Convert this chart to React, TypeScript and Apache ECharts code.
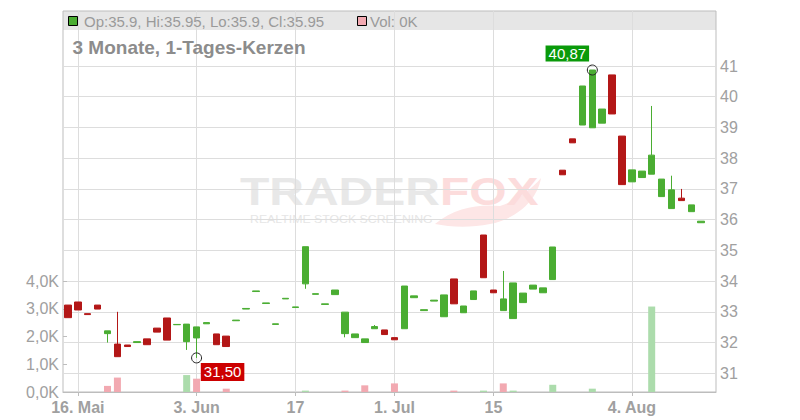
import React, { useEffect, useRef } from 'react';
import * as echarts from 'echarts';

// Trading days 2025 (MM-DD); the last one is an empty slot
const dates = ['05-15','05-16','05-19','05-20','05-21','05-22','05-23','05-26','05-27','05-28','05-29','05-30',
  '06-02','06-03','06-04','06-05','06-06','06-09','06-10','06-11','06-12','06-13','06-16','06-17','06-18','06-19','06-20','06-23','06-24','06-25','06-26','06-27','06-30',
  '07-01','07-02','07-03','07-04','07-07','07-08','07-09','07-10','07-11','07-14','07-15','07-16','07-17','07-18','07-21','07-22','07-23','07-24','07-25','07-28','07-29','07-30','07-31',
  '08-01','08-04','08-05','08-06','08-07','08-08','08-11','08-12','08-13','08-14'];

const tickDates = ['05-16','06-03','06-17','07-01','07-15','08-04'];
const tickLabels = ['16. Mai','3. Jun','17','1. Jul','15','4. Aug'];

const opens = [33.22,33.32,32.94,33.22,32.29,31.95,31.92,32.00,32.12,32.47,32.80,32.58,32.03,32.15,32.61,32.28,32.21,32.71,33.09,33.66,33.27,32.59,33.42,33.14,33.91,33.57,33.24,33.56,32.29,32.16,32.00,32.45,32.41,32.16,32.45,33.46,33.04,33.35,32.84,34.07,32.97,33.40,35.50,33.71,33.04,32.78,33.30,33.74,33.62,34.05,37.61,38.63,39.08,38.99,39.14,40.71,38.72,37.23,37.37,37.48,36.75,36.36,36.70,36.26,35.90];
const closes = [32.81,33.06,32.91,33.09,32.38,31.54,31.87,32.03,31.93,32.34,32.08,32.59,32.60,32.51,32.65,31.93,31.87,32.73,33.11,33.68,33.29,32.61,33.44,33.16,35.12,33.59,33.26,33.71,32.99,32.28,32.12,32.52,32.26,32.09,33.84,33.52,33.07,33.38,33.55,33.26,33.19,33.68,34.11,33.62,33.42,33.94,33.61,33.87,33.78,35.11,37.46,38.50,40.35,40.87,39.60,39.44,37.14,37.62,37.58,38.10,37.32,36.97,36.62,36.48,35.95];
const lows = [32.81,33.06,32.91,33.09,32.00,31.54,31.87,32.00,31.93,32.34,32.08,32.58,31.76,31.50,32.61,31.93,31.87,32.71,33.09,33.66,33.27,32.59,33.42,33.14,33.75,33.57,33.24,33.56,32.17,32.16,32.00,32.45,32.26,32.09,32.45,33.46,33.04,33.35,32.84,33.26,32.97,33.40,34.11,33.62,33.04,32.78,33.30,33.74,33.62,34.05,37.46,38.50,39.08,38.99,39.14,39.44,37.14,37.23,37.37,37.48,36.75,36.36,36.62,36.26,35.90];
const highs = [33.22,33.32,32.94,33.22,32.38,33.00,31.92,32.03,32.12,32.47,32.80,32.59,32.60,32.51,32.65,32.28,32.21,32.73,33.11,33.68,33.29,32.61,33.44,33.16,35.12,33.59,33.26,33.71,32.99,32.28,32.12,32.57,32.41,32.16,33.84,33.52,33.07,33.38,33.55,34.07,33.19,33.68,35.50,33.71,34.33,33.94,33.61,33.87,33.78,35.11,37.61,38.63,40.35,40.87,39.60,40.71,38.72,37.62,37.58,39.70,37.32,37.43,37.00,36.48,35.95];
// volume in thousands
const volumes = [0,0,0,0,0.22,0.52,0,0,0,0,0,0,0.61,0.48,0,0,0.12,0,0,0,0,0,0,0,0.05,0,0,0,0.05,0,0.24,0,0,0.31,0,0,0,0,0,0.05,0,0,0.05,0,0.31,0.05,0,0,0,0.26,0,0,0,0.12,0,0,0,0,0,3.08,0,0,0,0,0];

const titleText = '3 Monate, 1-Tages-Kerzen';
const volLegend = 'Vol: 0K';

const FONT = '"Liberation Sans", Arial, Helvetica, sans-serif';
const UP = '#4aad32';
const DOWN = '#b31717';
const VOL_UP = '#acdcac';
const VOL_DOWN = '#f2a9b1';
const LABEL = '#a0a0a0';

function fmt(v: number) {
  return String(Number(v.toFixed(2)));
}

export default function App() {
  const ref = useRef<HTMLDivElement>(null);
  useEffect(() => {
    document.body.style.margin = '0';
    const chart = echarts.init(ref.current!, null, { renderer: 'svg' });

    const n = opens.length;
    const candles: any[] = [];
    for (let i = 0; i < n; i++) candles.push([opens[i], closes[i], lows[i], highs[i]]);
    const vols = volumes.map((v, i) => {
      const up = i === 0 ? closes[0] >= opens[0] : closes[i] >= closes[i - 1];
      return { value: v, itemStyle: { color: up ? VOL_UP : VOL_DOWN } };
    });

    let hiIdx = 0, loIdx = 0;
    for (let i = 0; i < n; i++) {
      if (highs[i] > highs[hiIdx]) hiIdx = i;
      if (lows[i] < lows[loIdx]) loIdx = i;
    }
    const last = n - 1;
    const ohlcText = `Op:${fmt(opens[last])}, Hi:${fmt(highs[last])}, Lo:${fmt(lows[last])}, Cl:${fmt(closes[last])}`;

    const tickIdx = tickDates.map((d) => dates.indexOf(d));
    const isTick = (i: number) => tickIdx.indexOf(i) >= 0;

    const foxD = 'M435,224 C455,207 480,204 500,206 C515,201 530,191 541,178 C537,201 516,219 490,224 C470,228 450,227 435,224 Z';
    echarts.graphic.registerShape('foxtail', echarts.graphic.extendPath(foxD, {}));

    const option: any = {
      animation: false,
      textStyle: { fontFamily: FONT },
      grid: [
        { left: 63, right: 84, top: 11, bottom: 28, show: true, borderColor: '#bdbdbd', borderWidth: 1, backgroundColor: 'transparent' },
        { left: 63, right: 84, top: 35.3, bottom: 16 },
        { left: 63, right: 84, top: 281, bottom: 28 },
      ],
      xAxis: [
        {
          type: 'category', gridIndex: 0, data: dates, boundaryGap: true,
          axisLine: { show: true, lineStyle: { color: '#bdbdbd' } },
          axisTick: { show: true, alignWithLabel: true, interval: (i: number) => isTick(i), length: 4, lineStyle: { color: '#bdbdbd' } },
          axisLabel: {
            interval: (i: number) => isTick(i), margin: 7, color: LABEL, fontSize: 16, fontWeight: 'bold', fontFamily: FONT,
            formatter: (v: string) => { const k = tickDates.indexOf(v); return k >= 0 ? tickLabels[k] : ''; },
          },
          splitLine: { show: true, alignWithLabel: true, interval: (i: number) => isTick(i), lineStyle: { color: '#dddddd' } },
        },
        { type: 'category', gridIndex: 1, data: dates, show: false },
        { type: 'category', gridIndex: 2, data: dates, show: false },
      ],
      yAxis: [
        { type: 'value', gridIndex: 0, min: 0, max: 1, show: false, splitLine: { show: false } },
        {
          type: 'value', gridIndex: 1, position: 'right', min: 30, max: 42, interval: 1,
          axisLine: { show: false }, axisTick: { show: false },
          axisLabel: { showMinLabel: false, showMaxLabel: false, margin: 4, color: LABEL, fontSize: 16, fontFamily: FONT },
          splitLine: { show: true, showMinLine: false, showMaxLine: false, lineStyle: { color: '#dddddd' } },
        },
        {
          type: 'value', gridIndex: 2, position: 'left', min: 0, max: 4, interval: 1,
          axisLine: { show: false },
          axisTick: { show: true, inside: true, length: 4, lineStyle: { color: '#bdbdbd' } },
          axisLabel: { margin: 4, color: LABEL, fontSize: 16, fontFamily: FONT, formatter: (v: number) => v.toFixed(1).replace('.', ',') + 'K' },
          splitLine: { show: false },
        },
      ],
      series: [
        {
          type: 'bar', xAxisIndex: 2, yAxisIndex: 2, data: vols, barWidth: 7, z: 2,
        },
        {
          type: 'candlestick', xAxisIndex: 1, yAxisIndex: 1, data: candles, barWidth: 7, z: 3,
          itemStyle: { color: UP, color0: DOWN, borderColor: UP, borderColor0: DOWN, borderWidth: 1 },
          markPoint: {
            symbol: 'circle', symbolSize: 10,
            itemStyle: { color: 'rgba(0,0,0,0)', borderColor: '#222', borderWidth: 1 },
            data: [
              {
                coord: [hiIdx, highs[hiIdx]],
                label: { show: true, position: 'inside', offset: [-25, -16.5], formatter: highs[hiIdx].toFixed(2).replace('.', ','), backgroundColor: '#0a9a0a', color: '#fff', fontSize: 15, fontFamily: FONT, padding: [1, 3, 0, 3] },
              },
              {
                coord: [loIdx, lows[loIdx]],
                label: { show: true, position: 'inside', offset: [26, 14], formatter: lows[loIdx].toFixed(2).replace('.', ','), backgroundColor: '#cc0000', color: '#fff', fontSize: 15, fontFamily: FONT, padding: [2, 3, 1, 3] },
              },
            ],
          },
        },
      ],
      graphic: [
        { type: 'rect', z: -5, shape: { x: 63, y: 11, width: 653, height: 19 }, style: { fill: '#e6e6e6' } },
        { type: 'rect', z: 10, shape: { x: 68.5, y: 16.5, width: 9, height: 9 }, style: { fill: UP, stroke: '#000', lineWidth: 1 } },
        { type: 'text', z: 10, x: 84, y: 21, style: { text: ohlcText, font: `15px ${FONT}`, fill: '#9a9a9a', textAlign: 'left', textVerticalAlign: 'middle' } },
        { type: 'rect', z: 10, shape: { x: 357.5, y: 16.5, width: 9, height: 9 }, style: { fill: VOL_DOWN, stroke: '#000', lineWidth: 1 } },
        { type: 'text', z: 10, x: 370, y: 21, style: { text: volLegend, font: `15px ${FONT}`, fill: '#9a9a9a', textAlign: 'left', textVerticalAlign: 'middle' } },
        { type: 'text', z: 10, x: 72.5, y: 47.5, style: { text: titleText, font: `bold 19px ${FONT}`, fill: '#8c8c8c', textAlign: 'left', textVerticalAlign: 'middle' } },
        // watermark
        { type: 'foxtail', z: -4, x: 0, y: 0, style: { fill: '#fde6e6' } },
        { type: 'text', z: -3, x: 240, y: 191, scaleX: 1.23, style: { text: 'TRADER', font: `bold 39px ${FONT}`, fill: '#e8e8e8', textAlign: 'left', textVerticalAlign: 'middle' } },
        { type: 'text', z: -3, x: 440, y: 191, scaleX: 1.23, style: { text: 'FOX', font: `bold 39px ${FONT}`, fill: '#fcdcdc', textAlign: 'left', textVerticalAlign: 'middle' } },
        { type: 'text', z: -3, x: 250, y: 219, scaleX: 1.12, style: { text: 'REALTIME STOCK SCREENING', font: `11px ${FONT}`, fill: '#e6e6e6', textAlign: 'left', textVerticalAlign: 'middle' } },
      ],
    };
    chart.setOption(option);
    return () => chart.dispose();
  }, []);
  return <div ref={ref} style={{ width: 800, height: 420 }} />;
}
